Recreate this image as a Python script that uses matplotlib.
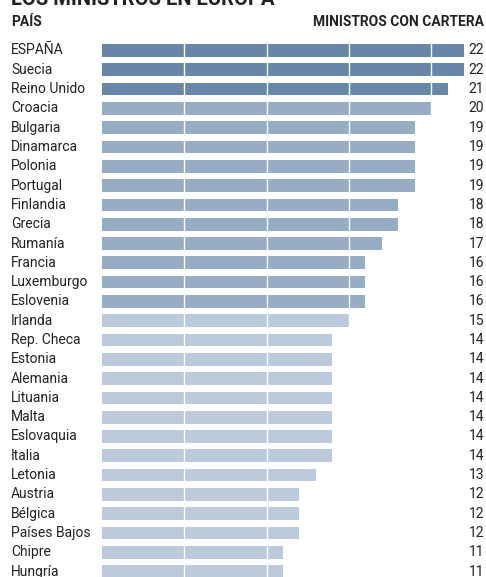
import matplotlib
matplotlib.use("Agg")
import matplotlib.pyplot as plt
from matplotlib.transforms import blended_transform_factory

paises = ["ESPAÑA", "Suecia", "Reino Unido", "Croacia", "Bulgaria", "Dinamarca",
          "Polonia", "Portugal", "Finlandia", "Grecia", "Rumanía", "Francia",
          "Luxemburgo", "Eslovenia", "Irlanda", "Rep. Checa", "Estonia", "Alemania",
          "Lituania", "Malta", "Eslovaquia", "Italia", "Letonia", "Austria",
          "Bélgica", "Países Bajos", "Chipre", "Hungría"]
ministros = [22, 22, 21, 20, 19, 19, 19, 19, 18, 18, 17, 16, 16, 16, 15,
             14, 14, 14, 14, 14, 14, 14, 13, 12, 12, 12, 11, 11]

OSCURO = "#6886a8"
MEDIO = "#97acc5"
CLARO = "#bccadb"


def color_para(v):
    if v >= 21:
        return OSCURO
    if v >= 16:
        return MEDIO
    return CLARO


plt.rcParams["font.family"] = ["Roboto", "DejaVu Sans"]

W, H = 486, 577
fig = plt.figure(figsize=(W / 100, H / 100), dpi=100)

x0, x1 = 102, 464
fila0, paso = 50.5, 19.3
n = len(paises)
top_px = fila0 - 0.5 * paso
bot_px = fila0 + (n - 0.5) * paso
ax = fig.add_axes([x0 / W, 1 - bot_px / H, (x1 - x0) / W, (bot_px - top_px) / H])
ax.set_xlim(0, 22)
ax.set_ylim(n - 0.5, -0.5)
ax.axis("off")

ys = list(range(n))
ax.barh(ys, ministros, height=0.66, color=[color_para(v) for v in ministros],
        zorder=1)
for g in (5, 10, 15, 20):
    ax.axvline(g, color="white", lw=1.0, zorder=2)

tr = blended_transform_factory(fig.transFigure, ax.transData)
for y, p, v in zip(ys, paises, ministros):
    ax.text(11 / W, y, p, transform=tr, ha="left", va="center",
            fontsize=10, color="#222222", clip_on=False)
    ax.text(484 / W, y, str(v), transform=tr, ha="right", va="center",
            fontsize=10, color="#222222", clip_on=False)

fig.text(11 / W, 1 - 22 / H, "PAÍS", ha="left", va="center",
         fontsize=10, fontweight="bold", color="#222222")
fig.text(484 / W, 1 - 22 / H, "MINISTROS CON CARTERA", ha="right", va="center",
         fontsize=10, fontweight="bold", color="#222222")
fig.text(11 / W, 1 - 5 / H, "LOS MINISTROS EN EUROPA", ha="left", va="baseline",
         fontsize=14.5, fontweight="bold", color="#222222")

fig.savefig("out.png", dpi=100)
